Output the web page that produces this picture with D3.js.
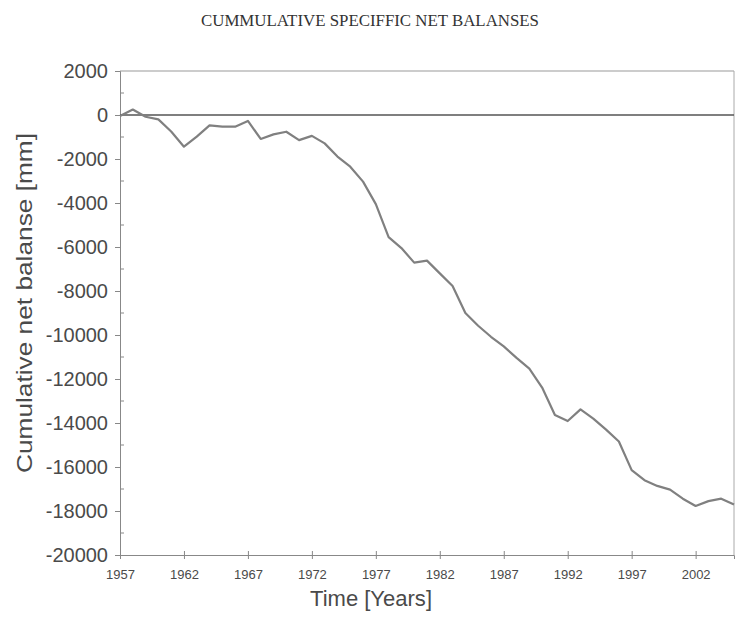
<!DOCTYPE html>
<html>
<head>
<meta charset="utf-8">
<style>
  body { margin: 0; background: #fff; }
  svg text { fill: #4a4a4a; }
</style>
<script src="https://d3js.org/d3.v7.min.js"></script>
</head>
<body>
<script>
const years = d3.range(1957, 2006);
const balance = [
  -50, 250, -80, -200, -750, -1440, -980, -470, -530, -530,
  -270, -1090, -880, -760, -1140, -950, -1290, -1890, -2350, -3030,
  -4050, -5550, -6050, -6710, -6620, -7200, -7770, -9000, -9580, -10080,
  -10520, -11040, -11530, -12390, -13640, -13910, -13380, -13800, -14300, -14840,
  -16140, -16600, -16860, -17030, -17440, -17770, -17550, -17440, -17710
];
const yTicks = d3.range(-20000, 2001, 2000);
const xTicks = [1957, 1962, 1967, 1972, 1977, 1982, 1987, 1992, 1997, 2002];

const w = 737, h = 625;
const mLeft = 120, mRight = 734, mTop = 71, mBottom = 555;

const svg = d3.select("body").append("svg")
  .attr("width", w).attr("height", h);

const x = d3.scaleLinear().domain([1957, 2005]).range([mLeft, mRight]);
const y = d3.scaleLinear().domain([-20000, 2000]).range([mBottom, mTop]);

// title
svg.append("text")
  .attr("x", 370).attr("y", 26)
  .attr("text-anchor", "middle")
  .attr("font-family", "Liberation Serif, Times New Roman, serif")
  .attr("font-size", 17)
  .attr("textLength", 338)
  .attr("lengthAdjust", "spacingAndGlyphs")
  .style("fill", "#333")
  .text("CUMMULATIVE SPECIFFIC NET BALANSES");

// frame (top and right)
svg.append("line").attr("x1", mLeft).attr("x2", mRight).attr("y1", mTop).attr("y2", mTop)
  .attr("stroke", "#999").attr("stroke-width", 1);
svg.append("line").attr("x1", mRight).attr("x2", mRight).attr("y1", mTop).attr("y2", mBottom)
  .attr("stroke", "#aaa").attr("stroke-width", 1);

// y axis
const yAxis = svg.append("g")
  .attr("transform", `translate(${mLeft},0)`)
  .call(d3.axisLeft(y).tickValues(yTicks).tickSize(5).tickPadding(7).tickFormat(d => String(d)));
yAxis.select(".domain").attr("stroke", "#888");
yAxis.selectAll(".tick line").attr("stroke", "#888");
yAxis.selectAll("text")
  .attr("font-family", "Liberation Sans, Arial, sans-serif")
  .attr("font-size", 20)
  .attr("fill", "#4a4a4a");
// minor ticks inside
svg.append("g").selectAll("line")
  .data(d3.range(-19000, 2000, 2000))
  .join("line")
  .attr("x1", mLeft).attr("x2", mLeft + 4)
  .attr("y1", d => y(d)).attr("y2", d => y(d))
  .attr("stroke", "#888");

// x axis
const xAxis = svg.append("g")
  .attr("transform", `translate(0,${mBottom})`)
  .call(d3.axisBottom(x).tickValues(xTicks).tickSize(4).tickPadding(11).tickFormat(d => String(d)));
xAxis.select(".domain").attr("stroke", "#888");
xAxis.selectAll(".tick line").attr("stroke", "#888").attr("y1", -4);
xAxis.selectAll("text")
  .attr("font-family", "Liberation Sans Narrow, Arial Narrow, sans-serif")
  .attr("font-size", 13)
  .attr("fill", "#4a4a4a");

// zero line
svg.append("line")
  .attr("x1", mLeft).attr("x2", mRight)
  .attr("y1", y(0)).attr("y2", y(0))
  .attr("stroke", "#555").attr("stroke-width", 1.5);

// data line
const line = d3.line().x((d, i) => x(years[i])).y(d => y(d));
svg.append("path")
  .datum(balance)
  .attr("d", line)
  .attr("fill", "none")
  .attr("stroke", "#808080")
  .attr("stroke-width", 2.2)
  .attr("stroke-linejoin", "round");

// axis titles
svg.append("text")
  .attr("x", 371).attr("y", 606)
  .attr("text-anchor", "middle")
  .attr("font-family", "Liberation Sans, Arial, sans-serif")
  .attr("font-size", 22)
  .attr("textLength", 122)
  .attr("lengthAdjust", "spacingAndGlyphs")
  .text("Time [Years]");

svg.append("text")
  .attr("transform", "translate(32,303) rotate(-90)")
  .attr("text-anchor", "middle")
  .attr("font-family", "Liberation Sans, Arial, sans-serif")
  .attr("font-size", 22)
  .attr("textLength", 340)
  .attr("lengthAdjust", "spacingAndGlyphs")
  .text("Cumulative net balanse [mm]");
</script>
</body>
</html>
